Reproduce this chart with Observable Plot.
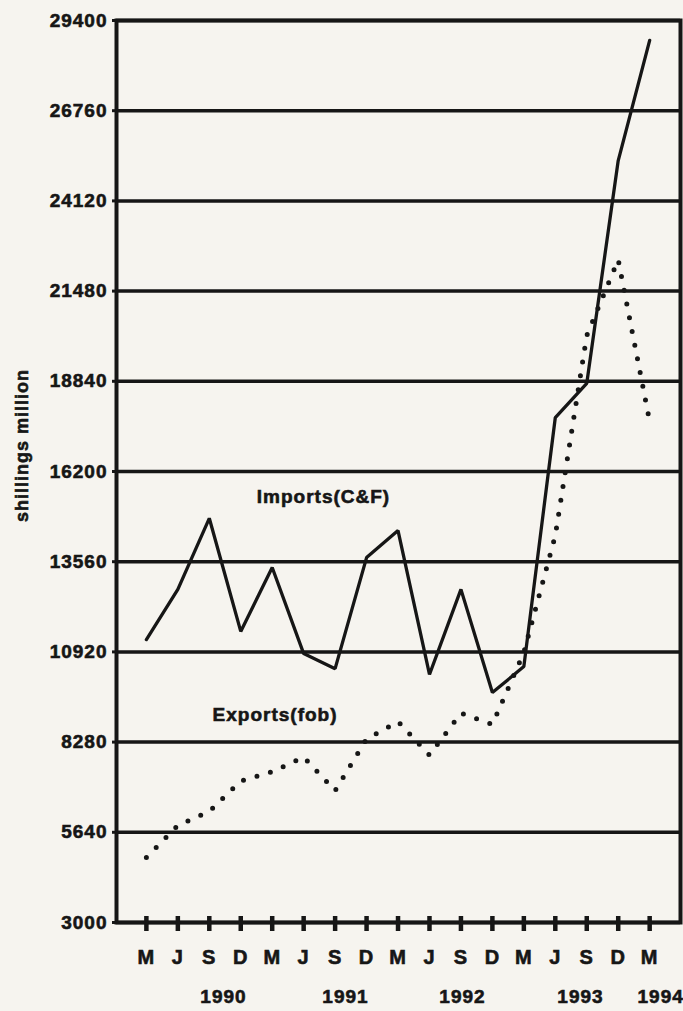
<!DOCTYPE html>
<html>
<head>
<meta charset="utf-8">
<script src="https://cdn.jsdelivr.net/npm/d3@7"></script>
<script src="https://cdn.jsdelivr.net/npm/@observablehq/plot@0.6"></script>
<style>
  html, body { margin: 0; padding: 0; background: #f6f4ef; }
  #chart svg text { letter-spacing: 1px; stroke: #161616; stroke-width: 0.6px; }
</style>
</head>
<body>
<div id="chart"></div>
<script>
// Quarter labels (Mar 1990 … Mar 1994)
const quarters = ["M","J","S","D","M","J","S","D","M","J","S","D","M","J","S","D","M"];
// Imports (C&F), shillings million
const imports = [11280,12750,14830,11520,13390,10870,10430,13680,14470,10260,12750,9730,10490,17780,18780,25300,28820];
// Exports (fob), shillings million
const exportsV = [4900,5840,6250,7140,7410,7840,6860,8370,8880,7900,9130,8800,10900,14330,20180,22400,17660];
// Y tick values
const yTicks = [3000,5640,8280,10920,13560,16200,18840,21480,24120,26760,29400];
// Year labels, anchored in quarter units
const yearLabels = ["1990","1991","1992","1993","1994"];
const yearAnchor = [2.45,6.33,10.05,13.8,16.35];
// Series annotation labels
const seriesNames = ["Imports(C&F)","Exports(fob)"];
const seriesAnchorQ = [5.63,4.09];
const seriesAnchorV = [15470,9090];

const impData = imports.map((v,i) => ({i, v}));
const expData = exportsV.map((v,i) => ({i, v}));
const yearData = yearLabels.map((t,k) => ({t, q: yearAnchor[k]}));
const seriesData = seriesNames.map((t,k) => ({t, q: seriesAnchorQ[k], v: seriesAnchorV[k]}));

const ink = "#161616";
const chart = Plot.plot({
  width: 683,
  height: 1011,
  marginLeft: 116,
  marginRight: 3,
  marginTop: 20,
  marginBottom: 89,
  x: {domain: [-0.95, 16.98]},
  y: {domain: [3000, 29400]},
  style: {background: "transparent", fontFamily: "'Liberation Sans', Arial, sans-serif", fontWeight: "bold", color: ink, fontSize: "19px"},
  marks: [
    Plot.gridY(yTicks, {stroke: ink, strokeOpacity: 1, strokeWidth: 3.5}),
    Plot.frame({stroke: ink, strokeWidth: 4}),
    Plot.axisY(yTicks, {tickSize: 4, tickPadding: 5, tickFormat: d => String(d), fontSize: 19, strokeWidth: 3, label: null}),
    Plot.axisX(d3.range(17), {tickSize: 15, dy: -6, tickFormat: () => "", strokeWidth: 4.5, label: null}),
    Plot.axisX(d3.range(17), {tickSize: 0, tickPadding: 27, tickFormat: i => quarters[i], fontSize: 20, label: null}),
    Plot.line(expData, {x: "i", y: "v", stroke: ink, strokeWidth: 5, strokeDasharray: "0 14", strokeLinecap: "round"}),
    Plot.line(impData, {x: "i", y: "v", stroke: ink, strokeWidth: 3.3, strokeLinejoin: "miter"}),
    Plot.text(seriesData, {x: "q", y: "v", text: "t", fontSize: 19, fill: ink}),
    Plot.text(yearData, {x: "q", text: "t", frameAnchor: "bottom", dy: 80, fontSize: 19, fill: ink}),
    Plot.text(["shillings million"], {frameAnchor: "left", textAnchor: "middle", rotate: -90, dx: -94, dy: -26, fontSize: 18, fill: ink})
  ]
});
document.getElementById("chart").appendChild(chart);
</script>
</body>
</html>
